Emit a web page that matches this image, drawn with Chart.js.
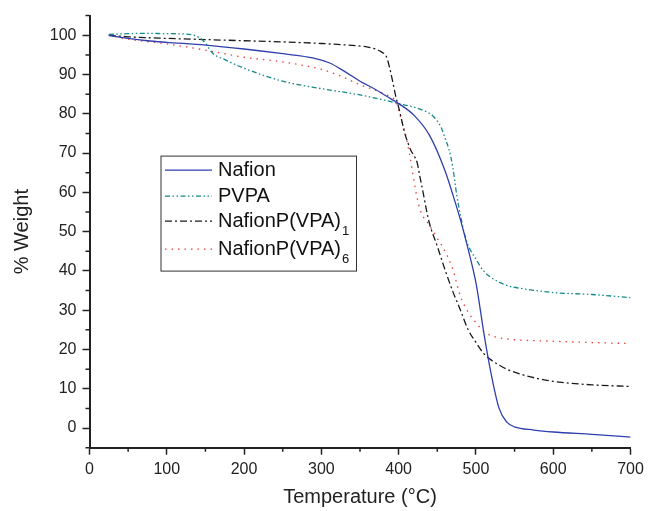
<!DOCTYPE html>
<html>
<head>
<meta charset="utf-8">
<script src="https://cdn.jsdelivr.net/npm/chart.js@4.4.1/dist/chart.umd.min.js"></script>
<style>
  html, body { margin: 0; padding: 0; background: #fff; }
</style>
</head>
<body>
<canvas id="tga" width="656" height="511"></canvas>
<script>
// ---- TGA curves (temperature in °C, weight in %) ----
const nafionT = [25, 50, 75, 100, 150, 200, 250, 290, 310, 330, 350, 370, 390, 400, 420, 440, 460, 470, 480, 490, 500, 505, 510, 520, 530, 540, 550, 575, 600, 650, 700];
const nafionW = [100, 99.2, 98.6, 98.2, 97.5, 96.5, 95.3, 94.2, 93, 90.8, 88.3, 86.2, 83.8, 82.6, 79.6, 74.5, 65.5, 59.5, 53, 45.5, 37, 31, 24.5, 13.5, 5, 1.5, 0.3, -0.5, -1, -1.6, -2.3];

const pvpaT = [25, 50, 75, 100, 125, 135, 145, 150, 155, 160, 175, 200, 250, 300, 350, 400, 430, 445, 455, 460, 465, 470, 475, 480, 485, 490, 500, 510, 520, 540, 560, 600, 650, 700];
const pvpaW = [100.2, 100.4, 100.5, 100.4, 100.3, 100, 99, 98, 96.5, 95.3, 93.8, 91.6, 88.3, 86.4, 84.8, 82.6, 81, 79.3, 76.5, 73.8, 71, 66.5, 59.5, 54.2, 49.5, 46.5, 43, 40, 38.3, 36.3, 35.5, 34.5, 34, 33.2];

const vpa1T = [25, 50, 100, 150, 200, 250, 300, 340, 360, 370, 378, 384, 388, 392, 396, 400, 404, 408, 412, 416, 420, 424, 428, 432, 436, 440, 450, 460, 470, 480, 490, 500, 510, 520, 540, 560, 580, 600, 650, 700];
const vpa1W = [100, 99.6, 99.2, 98.9, 98.6, 98.3, 97.9, 97.4, 97, 96.5, 95.7, 94.6, 92, 88.5, 84.7, 81.7, 78.3, 75, 72.6, 70.6, 69.3, 67.5, 63.5, 59.6, 55.5, 52, 46.3, 40.3, 34.8, 30, 25, 21.8, 19, 17.3, 15, 13.6, 12.6, 11.9, 11, 10.6];

const vpa6T = [25, 50, 100, 150, 200, 250, 300, 325, 350, 375, 390, 397, 402, 406, 410, 414, 418, 422, 426, 430, 440, 450, 460, 470, 480, 490, 500, 510, 520, 540, 600, 700];
const vpa6W = [100, 99, 97.8, 96.2, 94.4, 93.2, 91.3, 89.6, 87.4, 85.6, 84.2, 83, 79.5, 76.8, 73.8, 69.8, 65.2, 60.5, 56.8, 54.5, 51.6, 48.3, 45, 40.5, 33.5, 29.5, 26.8, 24.6, 23.5, 22.7, 22.1, 21.5];

// ---- axis ticks ----
const xTicks = [0, 100, 200, 300, 400, 500, 600, 700];
const xMinor = [50, 150, 250, 350, 450, 550, 650];
const yTicks = [0, 10, 20, 30, 40, 50, 60, 70, 80, 90, 100];
const yMinor = [-5, 5, 15, 25, 35, 45, 55, 65, 75, 85, 95, 105];

const FONT = "'Liberation Sans', Arial, Helvetica, sans-serif";
const AXIS = "#222";

function pts(xs, ys) {
  return xs.map((x, i) => ({ x: x, y: ys[i] }));
}

// short minor ticks between the labelled ones
const minorTicks = {
  id: "minorTicks",
  afterDraw(chart) {
    const { ctx, scales: { x, y } } = chart;
    ctx.save();
    ctx.strokeStyle = AXIS;
    ctx.lineWidth = 1.5;
    ctx.beginPath();
    xMinor.forEach((v) => {
      const px = x.getPixelForValue(v);
      ctx.moveTo(px, x.top);
      ctx.lineTo(px, x.top + 4);
    });
    yMinor.forEach((v) => {
      const py = y.getPixelForValue(v);
      ctx.moveTo(y.right - 4, py);
      ctx.lineTo(y.right, py);
    });
    ctx.stroke();
    ctx.restore();
  }
};

// boxed legend inside the plot, with subscripts
const boxLegend = {
  id: "boxLegend",
  afterDraw(chart) {
    const { ctx, chartArea } = chart;
    const x0 = chartArea.left + 71.5, y0 = chartArea.top + 140.5;
    const rows = [14, 40, 65, 93];
    ctx.save();
    ctx.strokeStyle = "#333";
    ctx.lineWidth = 1;
    ctx.strokeRect(x0, y0, 195.5, 115);
    chart.data.datasets.forEach((ds, i) => {
      const yy = y0 + rows[i];
      ctx.strokeStyle = ds.borderColor;
      ctx.lineWidth = ds.borderWidth;
      ctx.setLineDash(ds.borderDash || []);
      ctx.beginPath();
      ctx.moveTo(x0 + 4, yy);
      ctx.lineTo(x0 + 51, yy);
      ctx.stroke();
      ctx.setLineDash([]);
      ctx.fillStyle = "#111";
      ctx.textBaseline = "middle";
      ctx.font = "20px " + FONT;
      ctx.fillText(ds.label, x0 + 57, yy);
      if (ds.sub) {
        const tw = ctx.measureText(ds.label).width;
        ctx.font = "13px " + FONT;
        ctx.fillText(ds.sub, x0 + 57 + tw + 1, yy + 10);
      }
    });
    ctx.restore();
  }
};

const line = (label, sub, data, color, dash) => ({
  label: label,
  sub: sub,
  data: data,
  borderColor: color,
  borderWidth: 1.3,
  borderDash: dash,
  pointRadius: 0,
  fill: false,
  cubicInterpolationMode: "monotone",
});

new Chart(document.getElementById("tga"), {
  type: "line",
  data: {
    datasets: [
      line("Nafion", "", pts(nafionT, nafionW), "#2f3fae", []),
      line("PVPA", "", pts(pvpaT, pvpaW), "#128a88", [5, 2.5, 1.5, 2.5, 1.5, 2.5]),
      line("NafionP(VPA)", "1", pts(vpa1T, vpa1W), "#1a1a1a", [7, 3, 2, 3]),
      line("NafionP(VPA)", "6", pts(vpa6T, vpa6W), "#e8433b", [1.5, 5]),
    ],
  },
  options: {
    responsive: false,
    animation: false,
    devicePixelRatio: 1,
    layout: { padding: { top: 11.7, right: 25.5, bottom: 0, left: 0 } },
    plugins: {
      legend: { display: false },
      tooltip: { enabled: false },
    },
    scales: {
      x: {
        type: "linear",
        min: 0,
        max: 700,
        afterBuildTicks: (s) => { s.ticks = xTicks.map((v) => ({ value: v })); },
        afterFit: (s) => { s.height = 63.3; },
        grid: { drawOnChartArea: false, tickLength: 7, tickColor: AXIS, tickWidth: 1.5 },
        border: { color: AXIS, width: 2 },
        ticks: { autoSkip: false, maxRotation: 0, color: "#222", font: { size: 16, family: FONT }, padding: 5 },
        title: {
          display: true,
          text: "Temperature (°C)",
          color: "#222",
          font: { size: 20, family: FONT },
          padding: { top: 0, bottom: 2 },
        },
      },
      y: {
        min: -5,
        max: 105,
        afterBuildTicks: (s) => { s.ticks = yTicks.map((v) => ({ value: v })); },
        afterFit: (s) => { s.width = 89.5; },
        grid: { drawOnChartArea: false, tickLength: 7, tickColor: AXIS, tickWidth: 1.5 },
        border: { color: AXIS, width: 2 },
        ticks: { autoSkip: false, color: "#222", font: { size: 16, family: FONT }, padding: 6 },
        title: {
          display: true,
          text: "% Weight",
          color: "#222",
          font: { size: 20, family: FONT },
          padding: { top: 10, bottom: 0 },
        },
      },
    },
  },
  plugins: [minorTicks, boxLegend],
});
</script>
</body>
</html>
